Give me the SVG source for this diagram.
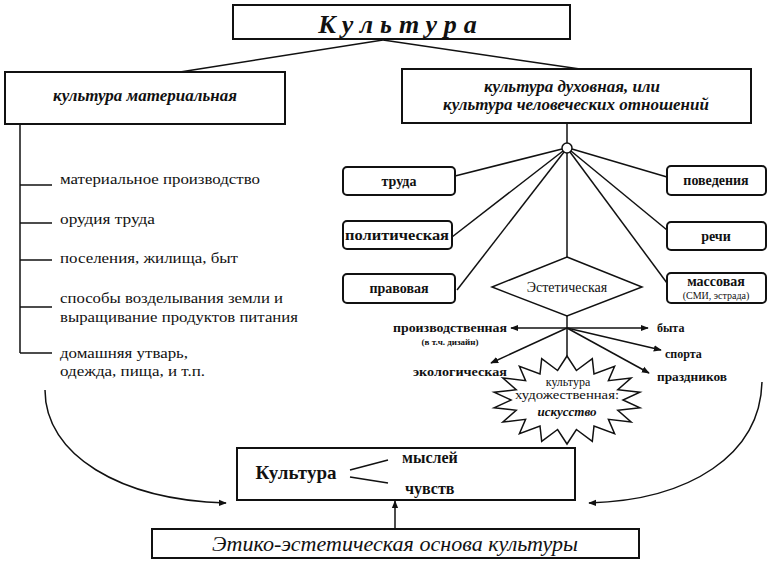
<svg xmlns="http://www.w3.org/2000/svg" width="773" height="561" viewBox="0 0 773 561">
<defs>
<style>
.bg{fill:#ffffff}
.box{fill:#ffffff;stroke:#111;stroke-width:2}
.rbox{fill:#ffffff;stroke:#111;stroke-width:2}
.ln{fill:none;stroke:#111;stroke-width:1.5}
.t{font-family:"Liberation Serif","Times New Roman",serif;fill:#111}
.b{font-weight:bold}
.i{font-style:italic}
.mid{text-anchor:middle}
.end{text-anchor:end}
</style>
<marker id="ah" viewBox="0 0 10 10" refX="9" refY="5" markerWidth="8" markerHeight="8" markerUnits="userSpaceOnUse" orient="auto">
<path d="M0,1 L10,5 L0,9 z" fill="#111"/>
</marker>
</defs>
<rect class="bg" x="0" y="0" width="773" height="561"/>

<g id="connectors">
<line class="ln" x1="383" y1="40" x2="180" y2="72"/>
<line class="ln" x1="383" y1="40" x2="580" y2="69"/>
<line class="ln" x1="20" y1="124" x2="20" y2="353"/>
<line class="ln" x1="20" y1="185" x2="52" y2="185"/>
<line class="ln" x1="20" y1="223" x2="52" y2="223"/>
<line class="ln" x1="20" y1="260" x2="52" y2="260"/>
<line class="ln" x1="20" y1="307" x2="52" y2="307"/>
<line class="ln" x1="20" y1="353" x2="52" y2="353"/>
<line class="ln" x1="567" y1="123" x2="567" y2="143"/>
<line class="ln" x1="562" y1="149" x2="455" y2="176"/>
<line class="ln" x1="563" y1="151" x2="452" y2="237"/>
<line class="ln" x1="564" y1="152" x2="457" y2="290"/>
<line class="ln" x1="572" y1="149" x2="667" y2="177"/>
<line class="ln" x1="571" y1="151" x2="667" y2="230"/>
<line class="ln" x1="570" y1="152" x2="667" y2="283"/>
<line class="ln" x1="567" y1="153" x2="567" y2="257"/>
<line class="ln" x1="567" y1="316" x2="567" y2="356"/>
<line class="ln" x1="567" y1="328" x2="511" y2="328" marker-end="url(#ah)"/>
<line class="ln" x1="567" y1="328" x2="648" y2="328" marker-end="url(#ah)"/>
<line class="ln" x1="567" y1="328" x2="661" y2="350" marker-end="url(#ah)"/>
<line class="ln" x1="567" y1="328" x2="649" y2="373" marker-end="url(#ah)"/>
<line class="ln" x1="567" y1="328" x2="491" y2="363" marker-end="url(#ah)"/>
<path class="ln" d="M45,390 C45,455 120,500 226,503" marker-end="url(#ah)"/>
<path class="ln" d="M762,382 C760,455 690,500 589,503" marker-end="url(#ah)"/>
<line class="ln" x1="395" y1="529" x2="395" y2="501" marker-end="url(#ah)"/>
</g>

<g id="title">
<rect class="box" x="233" y="5" width="337" height="34"/>
<text class="t b i mid" x="401" y="33" font-size="26" letter-spacing="7">Культура</text>
</g>

<g id="material">
<rect class="box" x="5" y="72" width="280" height="52"/>
<text class="t b i mid" x="145" y="101" font-size="17">культура материальная</text>
</g>

<g id="spiritual">
<rect class="box" x="402" y="69" width="349" height="54"/>
<text class="t b i mid" x="572" y="92" font-size="17">культура духовная, или</text>
<text class="t b i mid" x="576" y="110" font-size="17">культура человеческих отношений</text>
</g>

<g id="material-items">
<text class="t" x="60" y="184" font-size="15" textLength="200" lengthAdjust="spacingAndGlyphs">материальное производство</text>
<text class="t" x="60" y="224" font-size="15" textLength="95" lengthAdjust="spacingAndGlyphs">орудия труда</text>
<text class="t" x="60" y="263" font-size="15" textLength="178" lengthAdjust="spacingAndGlyphs">поселения, жилища, быт</text>
<text class="t" x="60" y="303" font-size="15" textLength="223" lengthAdjust="spacingAndGlyphs">способы возделывания земли и</text>
<text class="t" x="60" y="322" font-size="15" textLength="238" lengthAdjust="spacingAndGlyphs">выращивание продуктов питания</text>
<text class="t" x="60" y="358" font-size="15" textLength="128" lengthAdjust="spacingAndGlyphs">домашняя утварь,</text>
<text class="t" x="60" y="376" font-size="15" textLength="145" lengthAdjust="spacingAndGlyphs">одежда, пища, и т.п.</text>
</g>

<g id="hub">
<circle cx="567" cy="148" r="5" fill="#fff" stroke="#111" stroke-width="1.5"/>
</g>

<g id="trud">
<rect class="rbox" x="343" y="167" width="112" height="28" rx="4"/>
<text class="t b mid" x="399" y="186" font-size="14">труда</text>
</g>
<g id="polit">
<rect class="rbox" x="343" y="221" width="109" height="28" rx="4"/>
<text class="t b mid" x="397" y="240" font-size="14" textLength="104" lengthAdjust="spacingAndGlyphs">политическая</text>
</g>
<g id="pravo">
<rect class="rbox" x="343" y="274" width="112" height="29" rx="4"/>
<text class="t b mid" x="399" y="293" font-size="14">правовая</text>
</g>
<g id="povedenie">
<rect class="rbox" x="667" y="166" width="99" height="29" rx="4"/>
<text class="t b mid" x="716" y="185" font-size="14">поведения</text>
</g>
<g id="rech">
<rect class="rbox" x="667" y="222" width="99" height="28" rx="4"/>
<text class="t b mid" x="716" y="241" font-size="14">речи</text>
</g>
<g id="massovaya">
<rect class="rbox" x="667" y="273" width="99" height="30" rx="4"/>
<text class="t b mid" x="716" y="286" font-size="14">массовая</text>
<text class="t mid" x="716" y="299" font-size="10">(СМИ, эстрада)</text>
</g>

<g id="esthetic">
<polygon points="567,257 642,287 567,316 492,287" fill="#fff" stroke="#111" stroke-width="1.5"/>
<text class="t mid" x="567" y="292" font-size="14">Эстетическая</text>
</g>

<g id="esthetic-items">
<text class="t b end" x="507" y="332" font-size="12" textLength="114" lengthAdjust="spacingAndGlyphs">производственная</text>
<text class="t b mid" x="450" y="345" font-size="9">(в т.ч. дизайн)</text>
<text class="t b" x="657" y="332" font-size="12">быта</text>
<text class="t b" x="665" y="358" font-size="12">спорта</text>
<text class="t b" x="657" y="381" font-size="12" textLength="70" lengthAdjust="spacingAndGlyphs">праздников</text>
<text class="t b end" x="507" y="376" font-size="12" textLength="94" lengthAdjust="spacingAndGlyphs">экологическая</text>
</g>

<g id="art">
<polygon fill="#fff" stroke="#111" stroke-width="1.5" points="567,356 576.4,370.5 592.3,358.6 594,374 614.6,366.3 608.4,380.7 631.1,378 617.8,389.7 639.9,392.3 623,400 639.9,407.7 617.8,410.3 631.1,422 608.4,419.3 614.6,433.7 594,426 592.3,441.4 576.4,429.5 567,444 557.6,429.5 541.7,441.4 540,426 519.4,433.7 525.6,419.3 502.9,422 516.2,410.3 494.1,407.7 511,400 494.1,392.3 516.2,389.7 502.9,378 525.6,380.7 519.4,366.3 540,374 541.7,358.6 557.6,370.5"/>
<text class="t mid" x="568" y="386" font-size="12">культура</text>
<text class="t mid" x="567" y="399" font-size="12" textLength="104" lengthAdjust="spacingAndGlyphs">художественная:</text>
<text class="t b i mid" x="567" y="416" font-size="13">искусство</text>
</g>

<g id="culture-mind">
<rect class="box" x="237" y="448" width="338" height="52"/>
<text class="t b mid" x="296" y="479" font-size="19">Культура</text>
<text class="t b" x="402" y="463" font-size="16">мыслей</text>
<text class="t b" x="405" y="494" font-size="16">чувств</text>
<line class="ln" x1="350" y1="470" x2="388" y2="460"/>
<line class="ln" x1="350" y1="477" x2="388" y2="483"/>
</g>

<g id="basis">
<rect class="box" x="152" y="529" width="487" height="29"/>
<text class="t i mid" x="395" y="551" font-size="20" textLength="366" lengthAdjust="spacingAndGlyphs">Этико-эстетическая основа культуры</text>
</g>
</svg>
